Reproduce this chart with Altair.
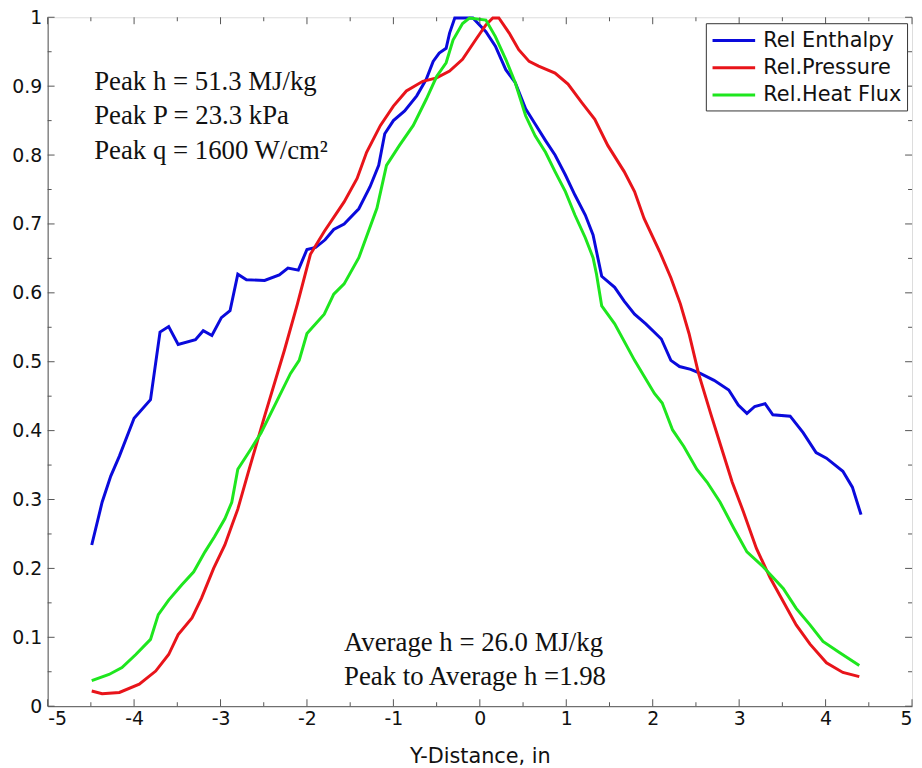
import altair as alt
import pandas as pd

# ---- data ----
series_names = ["Rel Enthalpy", "Rel.Pressure", "Rel.Heat Flux"]
series_colors = ["#0a0adc", "#e8141a", "#1ee61e"]

enth_x = [-4.49, -4.37, -4.27, -4.17, -4.00, -3.81, -3.70, -3.60, -3.49, -3.29, -3.20, -3.10,
          -2.99, -2.89, -2.80, -2.70, -2.49, -2.32, -2.22, -2.10, -2.00, -1.90, -1.79, -1.69,
          -1.57, -1.40, -1.27, -1.17, -1.10, -1.00, -0.87, -0.73, -0.62, -0.54, -0.47, -0.39,
          -0.35, -0.29, -0.08, 0.07, 0.18, 0.30, 0.41, 0.53, 0.64, 0.76, 0.87, 0.99, 1.10,
          1.22, 1.31, 1.35, 1.41, 1.56, 1.67, 1.79, 1.92, 2.10, 2.21, 2.31, 2.44, 2.55, 2.71,
          2.88, 2.99, 3.09, 3.18, 3.30, 3.39, 3.59, 3.74, 3.89, 4.01, 4.20, 4.31, 4.41]
enth_y = [0.234, 0.296, 0.334, 0.363, 0.418, 0.445, 0.543, 0.551, 0.525, 0.532, 0.545, 0.538,
          0.564, 0.574, 0.627, 0.619, 0.618, 0.626, 0.636, 0.633, 0.663, 0.666, 0.677, 0.692,
          0.700, 0.722, 0.754, 0.785, 0.831, 0.850, 0.864, 0.886, 0.910, 0.936, 0.948, 0.955,
          0.977, 0.999, 0.999, 0.979, 0.958, 0.924, 0.905, 0.867, 0.845, 0.821, 0.800, 0.771,
          0.742, 0.713, 0.684, 0.660, 0.624, 0.608, 0.588, 0.569, 0.555, 0.533, 0.502, 0.493,
          0.489, 0.483, 0.473, 0.459, 0.437, 0.425, 0.435, 0.439, 0.423, 0.421, 0.397, 0.368,
          0.360, 0.341, 0.318, 0.278]

pres_x = [-4.49, -4.37, -4.17, -3.94, -3.75, -3.60, -3.49, -3.33, -3.22, -3.08, -2.95, -2.87,
          -2.80, -2.68, -2.49, -2.26, -2.11, -1.96, -1.80, -1.57, -1.42, -1.31, -1.15, -1.00,
          -0.85, -0.66, -0.50, -0.35, -0.20, -0.05, 0.07, 0.15, 0.22, 0.34, 0.45, 0.57, 0.68,
          0.87, 1.02, 1.18, 1.33, 1.48, 1.67, 1.79, 1.90, 2.08, 2.21, 2.32, 2.42, 2.53, 2.67,
          2.80, 2.92, 3.05, 3.20, 3.36, 3.51, 3.66, 3.82, 4.01, 4.20, 4.39]
pres_y = [0.022, 0.018, 0.020, 0.032, 0.051, 0.075, 0.104, 0.128, 0.157, 0.200, 0.234, 0.262,
          0.286, 0.339, 0.421, 0.517, 0.584, 0.656, 0.689, 0.732, 0.766, 0.804, 0.843, 0.871,
          0.893, 0.907, 0.912, 0.922, 0.939, 0.967, 0.989, 0.999, 0.999, 0.977, 0.953, 0.936,
          0.929, 0.919, 0.903, 0.876, 0.852, 0.814, 0.776, 0.747, 0.708, 0.660, 0.622, 0.584,
          0.541, 0.483, 0.425, 0.373, 0.325, 0.282, 0.229, 0.186, 0.152, 0.118, 0.090, 0.063,
          0.049, 0.043]

flux_x = [-4.49, -4.29, -4.14, -3.98, -3.81, -3.72, -3.60, -3.45, -3.31, -3.18, -3.07, -2.95,
          -2.87, -2.80, -2.65, -2.53, -2.34, -2.19, -2.09, -2.00, -1.80, -1.69, -1.57, -1.40,
          -1.19, -1.08, -0.93, -0.77, -0.62, -0.50, -0.39, -0.31, -0.20, -0.12, 0.07, 0.18,
          0.30, 0.41, 0.53, 0.64, 0.76, 0.87, 0.99, 1.10, 1.22, 1.31, 1.35, 1.41, 1.56, 1.79,
          2.02, 2.11, 2.23, 2.36, 2.51, 2.63, 2.78, 2.94, 3.09, 3.28, 3.51, 3.66, 3.82, 3.97,
          4.16, 4.39]
flux_y = [0.037, 0.046, 0.056, 0.075, 0.097, 0.133, 0.154, 0.176, 0.195, 0.224, 0.246, 0.272,
          0.296, 0.344, 0.373, 0.397, 0.445, 0.483, 0.502, 0.541, 0.569, 0.598, 0.613, 0.651,
          0.723, 0.785, 0.814, 0.843, 0.881, 0.914, 0.934, 0.967, 0.991, 0.999, 0.996, 0.972,
          0.939, 0.905, 0.857, 0.828, 0.804, 0.776, 0.747, 0.713, 0.680, 0.651, 0.627, 0.581,
          0.555, 0.502, 0.454, 0.440, 0.401, 0.377, 0.344, 0.325, 0.296, 0.258, 0.224, 0.202,
          0.171, 0.142, 0.118, 0.094, 0.078, 0.059]

x_major = [-5, -4, -3, -2, -1, 0, 1, 2, 3, 4, 5]
x_minor = [-4.5, -3.5, -2.5, -1.5, -0.5, 0.5, 1.5, 2.5, 3.5, 4.5]
y_major = [0, 0.1, 0.2, 0.3, 0.4, 0.5, 0.6, 0.7, 0.8, 0.9, 1]
y_minor = [0.05, 0.15, 0.25, 0.35, 0.45, 0.55, 0.65, 0.75, 0.85, 0.95]

notes_top = ["Peak h = 51.3 MJ/kg", "Peak P = 23.3 kPa", "Peak q = 1600 W/cm\u00b2"]
notes_bottom = ["Average h = 26.0 MJ/kg", "Peak to Average h =1.98"]

x_title = "Y-Distance, in"

# ---- build table ----
frames = []
for name, xs, ys in zip(series_names, [enth_x, pres_x, flux_x], [enth_y, pres_y, flux_y]):
    frames.append(pd.DataFrame({"x": xs, "y": ys, "series": name}))
df = pd.concat(frames, ignore_index=True)

W, H = 872, 695
AXC = "#555555"
LABEL_FONT = "DejaVu Sans"
SERIF = "Liberation Serif"

xscale = alt.Scale(domain=[-5, 5], nice=False, zero=False)
yscale = alt.Scale(domain=[0, 1], nice=False, zero=False)

lines = alt.Chart(df).mark_line(strokeWidth=3).encode(
    x=alt.X("x:Q", scale=xscale,
            axis=alt.Axis(title=x_title, values=x_major, ticks=False, grid=False,
                          labelExpr="'' + datum.value",
                          domainColor=AXC, labelFont=LABEL_FONT, labelFontSize=19,
                          labelColor="#111", labelPadding=3, titleFont=LABEL_FONT,
                          titleFontSize=21, titleFontWeight="normal", titleColor="#111",
                          titlePadding=18)),
    y=alt.Y("y:Q", scale=yscale,
            axis=alt.Axis(title=None, values=y_major, format="~g", ticks=False, grid=False,
                          domainColor=AXC, labelFont=LABEL_FONT, labelFontSize=19,
                          labelColor="#111", labelPadding=6)),
    color=alt.Color("series:N",
                    scale=alt.Scale(domain=series_names, range=series_colors),
                    sort=series_names,
                    legend=alt.Legend(title=None, orient="none", legendX=664, legendY=6,
                                      symbolType="M-1,0H3", symbolStrokeWidth=3,
                                      symbolSize=462, labelFont=LABEL_FONT,
                                      labelFontSize=21, labelColor="#111", labelOffset=28,
                                      strokeColor="#333", fillColor="white", padding=5,
                                      rowPadding=4.5)),
    order=alt.Order("x:Q"),
)

def tick_layer(values, channel, length, side):
    d = pd.DataFrame({"v": values})
    base = alt.Chart(d).mark_rule(color=AXC, strokeWidth=1)
    if channel == "x":
        if side == "bottom":
            return base.encode(x=alt.X("v:Q", scale=xscale), y=alt.value(H), y2=alt.value(H - length))
        return base.encode(x=alt.X("v:Q", scale=xscale), y=alt.value(0), y2=alt.value(length))
    if side == "left":
        return base.encode(y=alt.Y("v:Q", scale=yscale, axis=None), x=alt.value(0), x2=alt.value(length))
    return base.encode(y=alt.Y("v:Q", scale=yscale, axis=None), x=alt.value(W), x2=alt.value(W - length))

ticks = [
    tick_layer(x_major, "x", 7, "bottom"), tick_layer(x_minor, "x", 4, "bottom"),
    tick_layer(x_major, "x", 7, "top"), tick_layer(x_minor, "x", 4, "top"),
    tick_layer(y_major, "y", 7, "left"), tick_layer(y_minor, "y", 4, "left"),
    tick_layer(y_major, "y", 7, "right"), tick_layer(y_minor, "y", 4, "right"),
]

top_df = pd.DataFrame({"t": notes_top, "i": list(range(len(notes_top)))})
bot_df = pd.DataFrame({"t": notes_bottom, "i": list(range(len(notes_bottom)))})

top_text = alt.Chart(top_df).mark_text(font=SERIF, fontSize=27, align="left",
                                      baseline="alphabetic", color="#111").encode(
    text="t:N",
    x=alt.value(47),
    y=alt.Y("i:Q", scale=alt.Scale(domain=[0, 2], range=[73, 143]), axis=None),
)
bot_text = alt.Chart(bot_df).mark_text(font=SERIF, fontSize=27, align="left",
                                      baseline="alphabetic", color="#111").encode(
    text="t:N",
    x=alt.value(299),
    y=alt.Y("i:Q", scale=alt.Scale(domain=[0, 1], range=[639, 674]), axis=None),
)

chart = alt.layer(lines, *ticks, top_text, bot_text).resolve_scale(y="independent").properties(
    width=W, height=H,
    autosize=alt.AutoSizeParams(type="none"),
    padding={"left": 40, "top": 6, "right": 2, "bottom": 59},
).configure_view(stroke=AXC, strokeWidth=1).configure(background="white")

chart.save("out.html", embed_options={"renderer": "svg", "actions": False})
